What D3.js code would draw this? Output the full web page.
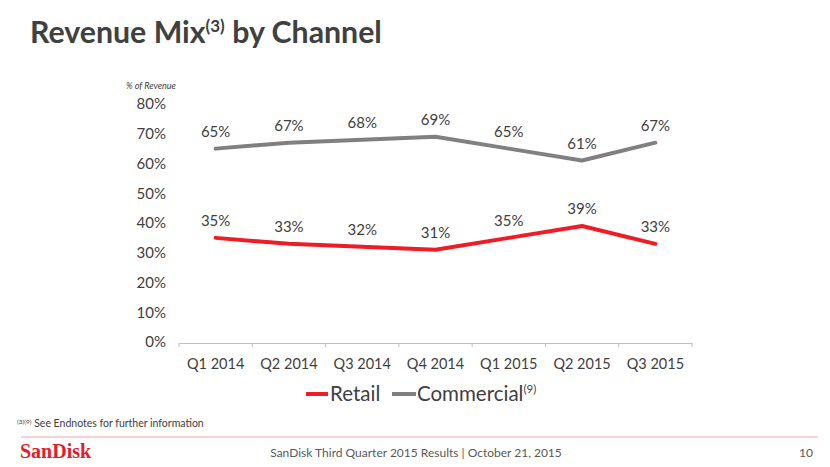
<!DOCTYPE html>
<html><head><meta charset="utf-8">
<script src="https://cdn.jsdelivr.net/npm/d3@7"></script>
<style>
body{margin:0;background:#fff;}
svg{display:block;}
text{font-family:Lato,"Open Sans",sans-serif;}
</style></head>
<body><svg id="c" width="830" height="467"></svg>
<script>
const categories = ["Q1 2014","Q2 2014","Q3 2014","Q4 2014","Q1 2015","Q2 2015","Q3 2015"];
const retail = [35,33,32,31,35,39,33];
const commercial = [65,67,68,69,65,61,67];
const yTicks = [0,10,20,30,40,50,60,70,80];

const svg = d3.select("#c");
const txt = "#404040";

// title
const t = svg.append("text").attr("x",30).attr("y",43).attr("fill",txt)
  .style("font-size","30.3px").style("font-weight","bold");
t.append("tspan").text("Revenue Mix");
t.append("tspan").text("(3)").style("font-size","17px").attr("dy",-11);
t.append("tspan").text(" by Channel").attr("dy",11);

const x = d3.scaleBand().domain(categories).range([179,692]);
const y = d3.scaleLinear().domain([0,80]).range([342,104]);

svg.append("text").attr("x",126).attr("y",89).attr("fill",txt)
  .style("font-size","9px").style("font-style","italic").text("% of Revenue");

// y axis labels
const ya = svg.append("g").attr("transform","translate(166,0)")
  .call(d3.axisLeft(y).tickValues(yTicks).tickFormat(d=>d+"%").tickSize(0).tickPadding(0));
ya.select(".domain").remove();
ya.selectAll("text").attr("fill",txt).style("font-size","15px").style("font-family","Lato,sans-serif");

// x axis
const xa = svg.append("g").attr("transform","translate(0,343)")
  .call(d3.axisBottom(x).tickSize(0).tickPadding(16));
xa.select(".domain").attr("stroke","#bfbfbf");
xa.selectAll("text").attr("fill",txt).style("font-size","14.5px").style("font-family","Lato,sans-serif");
// boundary ticks
const bounds = categories.map(c=>x(c)).concat([x.range()[1]]);
svg.append("g").selectAll("line").data(bounds).join("line")
  .attr("x1",d=>d).attr("x2",d=>d).attr("y1",343).attr("y2",347).attr("stroke","#bfbfbf");

const cx = d=>x(d)+x.bandwidth()/2;
const series = [{name:"Retail",vals:retail,color:"#ee1c25"},{name:"Commercial",vals:commercial,color:"#808080"}];
const line = d3.line().x(d=>cx(d.c)).y(d=>y(d.v));
series.forEach(s=>{
  const pts = categories.map((c,i)=>({c,v:s.vals[i]}));
  svg.append("path").datum(pts).attr("d",line).attr("fill","none")
    .attr("stroke",s.color).attr("stroke-width",4).attr("stroke-linecap","round").attr("stroke-linejoin","round");
  svg.append("g").selectAll("text").data(pts).join("text")
    .attr("x",d=>cx(d.c)).attr("y",d=>y(d.v)-12).attr("text-anchor","middle")
    .attr("fill",txt).style("font-size","15px").text(d=>d.v+"%");
});

// legend
const lg = svg.append("g");
lg.append("line").attr("x1",306).attr("x2",328).attr("y1",394).attr("y2",394).attr("stroke","#ee1c25").attr("stroke-width",4);
lg.append("text").attr("x",330).attr("y",401).attr("fill",txt).style("font-size","20.5px").text("Retail");
lg.append("line").attr("x1",392).attr("x2",416).attr("y1",394).attr("y2",394).attr("stroke","#808080").attr("stroke-width",4);
const lt = lg.append("text").attr("x",417).attr("y",401).attr("fill",txt).style("font-size","20.5px");
lt.append("tspan").text("Commercial");
lt.append("tspan").text("(9)").style("font-size","11.5px").attr("dy",-8);

// footer
const fn = svg.append("text").attr("x",17).attr("y",427).attr("fill","#404040").style("font-size","10.5px");
fn.append("tspan").text("(3)(9)").style("font-size","6.5px").attr("dy",-3);
fn.append("tspan").text(" See Endnotes for further information").attr("dy",3);
svg.append("line").attr("x1",21).attr("x2",818).attr("y1",437).attr("y2",437).attr("stroke","#f7d2d2").attr("stroke-width",2);
svg.append("text").attr("x",20).attr("y",458).attr("fill","#e41c2a")
  .style("font-family","'Liberation Serif',serif").style("font-weight","bold").style("font-size","20px").text("SanDisk");
svg.append("text").attr("x",416).attr("y",457).attr("text-anchor","middle").attr("fill","#595959")
  .style("font-size","12px").text("SanDisk Third Quarter 2015 Results | October 21, 2015");
svg.append("text").attr("x",813).attr("y",457).attr("text-anchor","end").attr("fill","#595959")
  .style("font-size","12px").text("10");
</script></body></html>
